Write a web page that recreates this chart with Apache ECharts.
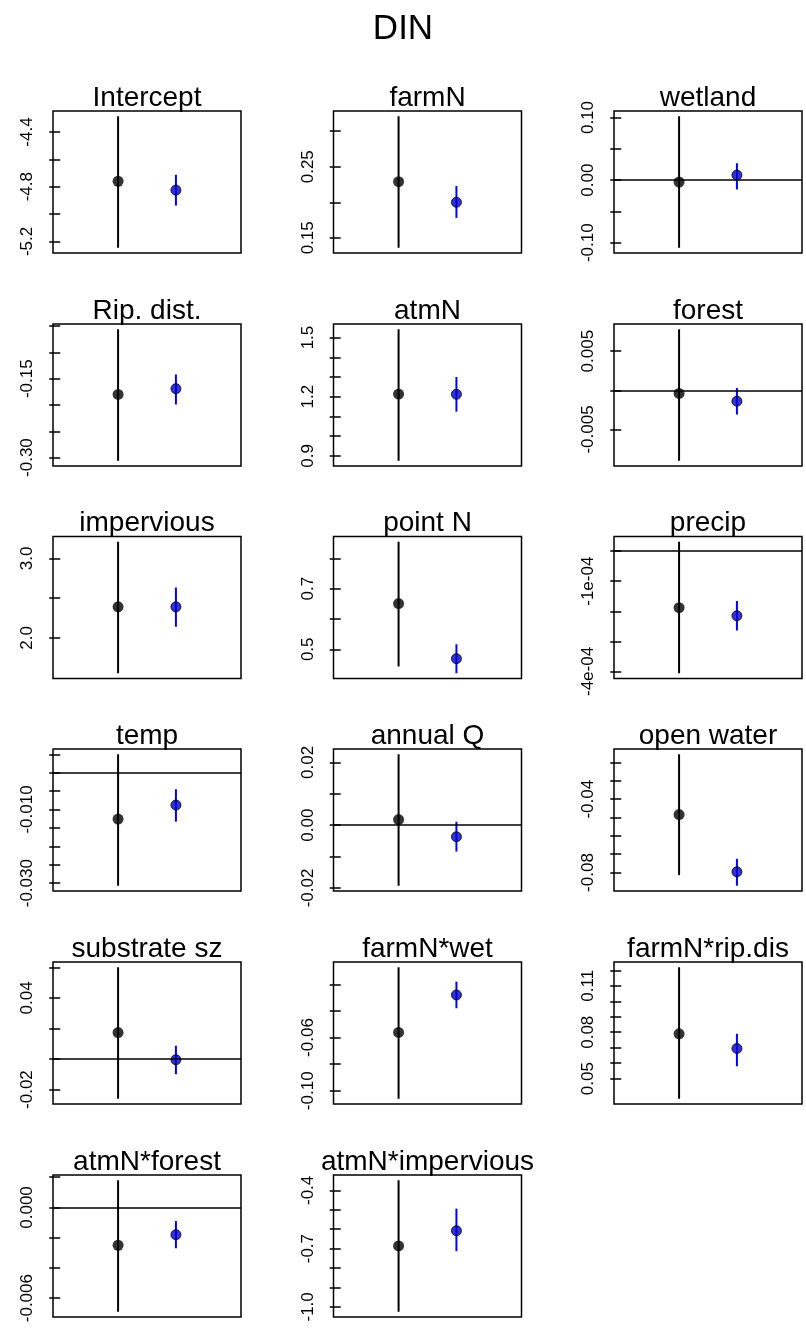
<!DOCTYPE html>
<html><head><meta charset="utf-8">
<script src="https://cdn.jsdelivr.net/npm/echarts@6/dist/echarts.min.js"></script>
<style>html,body{margin:0;padding:0;background:#fff}#c{width:806px;height:1335px}</style>
</head><body><div id="c"></div>
<script>
const mainTitle = 'DIN';
const panelNames = ['Intercept','farmN','wetland','Rip. dist.','atmN','forest','impervious','point N','precip','temp','annual Q','open water','substrate sz','farmN*wet','farmN*rip.dis','atmN*forest','atmN*impervious'];
// black estimate and interval
const estA = [-4.760, 0.229, -0.003, -0.180, 1.213, -0.0004, 2.391, 0.651, -1.88e-4, -0.0126, 0.0018, -0.0484, 0.0173, -0.0562, 0.079, -0.0025, -0.686];
const loA  = [-5.246, 0.136, -0.108, -0.306, 0.875, -0.0090, 1.557, 0.443, -4.06e-4, -0.0307, -0.0193, -0.0814, -0.026, -0.106, 0.037, -0.0069, -1.025];
const hiA  = [-4.285, 0.321, 0.102, -0.056, 1.542, 0.0078, 3.209, 0.855, 3.1e-5, 0.0050, 0.0226, -0.0155, 0.060, -0.0072, 0.122, 0.0018, -0.348];
// blue estimate and interval
const estB = [-4.825, 0.200, 0.008, -0.169, 1.212, -0.0014, 2.391, 0.469, -2.15e-4, -0.0088, -0.0037, -0.0796, -0.0005, -0.028, 0.0695, -0.0018, -0.608];
const loB  = [-4.938, 0.178, -0.015, -0.199, 1.124, -0.0031, 2.142, 0.421, -2.64e-4, -0.0133, -0.0084, -0.0872, -0.010, -0.038, 0.058, -0.0027, -0.713];
const hiB  = [-4.713, 0.223, 0.027, -0.142, 1.300, 0.0003, 2.634, 0.517, -1.66e-4, -0.0045, 0.0011, -0.0725, 0.0087, -0.018, 0.079, -0.0009, -0.494];
const zeroLine = [false,false,true,false,false,true,false,false,true,true,true,false,true,false,false,true,false];
const tickValues = [
  [-5.2,-5.0,-4.8,-4.6,-4.4],
  [0.15,0.20,0.25,0.30],
  [-0.10,-0.05,0,0.05,0.10],
  [-0.30,-0.25,-0.20,-0.15,-0.10,-0.05],
  [0.9,1.0,1.1,1.2,1.3,1.4,1.5],
  [-0.005,0,0.005],
  [2.0,2.5,3.0],
  [0.5,0.6,0.7,0.8],
  [-4e-4,-3e-4,-2e-4,-1e-4,0],
  [-0.030,-0.025,-0.020,-0.015,-0.010,-0.005,0,0.005],
  [-0.02,-0.01,0,0.01,0.02],
  [-0.08,-0.07,-0.06,-0.05,-0.04,-0.03,-0.02],
  [-0.02,0,0.02,0.04,0.06],
  [-0.10,-0.08,-0.06,-0.04,-0.02],
  [0.05,0.06,0.07,0.08,0.09,0.10,0.11,0.12],
  [-0.006,-0.004,-0.002,0,0.002],
  [-1.0,-0.9,-0.8,-0.7,-0.6,-0.5,-0.4]
];
const labelValues = [
  [-5.2,-4.8,-4.4],
  [0.15,0.25],
  [-0.10,0,0.10],
  [-0.30,-0.15],
  [0.9,1.2,1.5],
  [-0.005,0.005],
  [2.0,3.0],
  [0.5,0.7],
  [-4e-4,-1e-4],
  [-0.030,-0.010],
  [-0.02,0,0.02],
  [-0.08,-0.04],
  [-0.02,0.04],
  [-0.10,-0.06],
  [0.05,0.08,0.11],
  [-0.006,0],
  [-1.0,-0.7,-0.4]
];
const labelTexts = [
  ['-5.2','-4.8','-4.4'],
  ['0.15','0.25'],
  ['-0.10','0.00','0.10'],
  ['-0.30','-0.15'],
  ['0.9','1.2','1.5'],
  ['-0.005','0.005'],
  ['2.0','3.0'],
  ['0.5','0.7'],
  ['-4e-04','-1e-04'],
  ['-0.030','-0.010'],
  ['-0.02','0.00','0.02'],
  ['-0.08','-0.04'],
  ['-0.02','0.04'],
  ['-0.10','-0.06'],
  ['0.05','0.08','0.11'],
  ['-0.006','0.000'],
  ['-1.0','-0.7','-0.4']
];

const FONT = "'Liberation Sans', Arial, sans-serif";
const colLeft = [53, 333.5, 614];
const rowTop = [111, 324, 536.5, 749, 962, 1175];
const boxW = 188, boxH = 142;

const grids = [], xAxes = [], yAxes = [], series = [], graphics = [];
graphics.push({type:'text', x:403, y:47, style:{text:mainTitle, font:"35px "+FONT, fill:'#000', align:'center', verticalAlign:'bottom', textAlign:'center', textVerticalAlign:'bottom'}});

panelNames.forEach((name, i) => {
  const r = Math.floor(i/3), c = i%3;
  const L = colLeft[c], T = rowTop[r];
  grids.push({left:L, top:T, width:boxW, height:boxH, show:true, borderColor:'#000', borderWidth:1.5, backgroundColor:'rgba(0,0,0,0)'});
  xAxes.push({gridIndex:i, type:'value', min:-0.125, max:3.125, show:false});
  const dLo = Math.min(loA[i], loB[i]), dHi = Math.max(hiA[i], hiB[i]);
  const span = dHi - dLo;
  const lv = labelValues[i], lt = labelTexts[i];
  yAxes.push({
    gridIndex:i, type:'value', min:dLo-0.04*span, max:dHi+0.04*span,
    axisLine:{show:false}, splitLine:{show:false},
    axisTick:{show:true, inside:false, length:11, lineStyle:{color:'#000', width:1.5}, customValues:tickValues[i]},
    axisLabel:{show:true, rotate:90, margin:17, fontSize:17, color:'#000', fontFamily:FONT, customValues:lv,
      formatter:(v)=>{let best=0,bd=Infinity;lv.forEach((x,j)=>{const d=Math.abs(x-v);if(d<bd){bd=d;best=j;}});return lt[best];}}
  });
  graphics.push({type:'text', x:L+boxW/2, y:T+1, style:{text:name, font:"28px "+FONT, fill:'#000', align:'center', verticalAlign:'bottom', textAlign:'center', textVerticalAlign:'bottom'}});
  const blackBar = {type:'line', xAxisIndex:i, yAxisIndex:i, data:[[1,loA[i]],[1,hiA[i]]], symbol:'none', lineStyle:{color:'#000', width:2}, silent:true, z:3};
  if (zeroLine[i]) {
    blackBar.markLine = {silent:true, symbol:'none', label:{show:false}, lineStyle:{color:'#000', width:1.5, type:'solid'}, data:[{yAxis:0}]};
  }
  series.push(blackBar);
  series.push({type:'line', xAxisIndex:i, yAxisIndex:i, data:[[2,loB[i]],[2,hiB[i]]], symbol:'none', lineStyle:{color:'#0000ff', width:2}, silent:true, z:3});
  series.push({type:'scatter', xAxisIndex:i, yAxisIndex:i, data:[[1,estA[i]]], symbol:'circle', symbolSize:11, itemStyle:{color:'#000'}, silent:true, z:4});
  series.push({type:'scatter', xAxisIndex:i, yAxisIndex:i, data:[[2,estB[i]]], symbol:'circle', symbolSize:10, itemStyle:{color:'#0000cc', borderColor:'#000', borderWidth:1}, silent:true, z:4});
});

const chart = echarts.init(document.getElementById('c'), null, {renderer:'canvas'});
chart.setOption({animation:false, backgroundColor:'#fff', grid:grids, xAxis:xAxes, yAxis:yAxes, series:series, graphic:graphics});
</script></body></html>
